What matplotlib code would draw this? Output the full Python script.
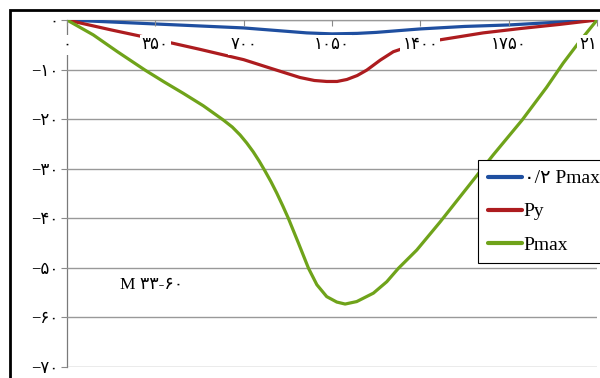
import matplotlib
matplotlib.use('Agg')
import matplotlib.pyplot as plt
from matplotlib.patches import Rectangle

# داده ها
x_blue = [0, 175, 350, 525, 700, 875, 950, 1050, 1150, 1225, 1400, 1575, 1750, 1925, 2100]
blue = [0, -0.4, -0.8, -1.2, -1.6, -2.3, -2.6, -2.8, -2.7, -2.5, -1.8, -1.3, -1.0, -0.5, 0]

x_red = [0, 175, 350, 525, 700, 817, 923, 980, 1029, 1070, 1109, 1150, 1188, 1241, 1293, 1380, 1478, 1649, 1800, 1950, 2100]
red = [0, -2.0, -3.9, -5.9, -8.0, -9.9, -11.6, -12.2, -12.4, -12.4, -12.0, -11.2, -10.1, -8.1, -6.4, -4.9, -4.0, -2.6, -1.7, -0.9, 0]

x_green = [0, 104, 200, 309, 385, 461, 540, 620, 655, 686, 712, 738, 762, 785, 808, 831, 855, 877, 917, 957, 990, 1029, 1069, 1102,
           1148, 1214, 1267, 1313, 1386, 1479, 1580, 1689, 1803, 1900, 1966, 2030, 2100]
green = [0, -3.0, -6.4, -10.1, -12.5, -14.8, -17.3, -20.2, -21.6, -23.2, -24.8, -26.6, -28.5, -30.5, -32.6, -34.9, -37.5, -40.0,
         -45.0, -50.1, -53.4, -55.8, -56.9, -57.3,
         -56.8, -55.1, -52.8, -50.1, -46.4, -40.7, -34.2, -27.2, -20.2, -13.6, -8.7, -4.4, 0]

series_names = ['۰/۲ Pmax', 'Py', 'Pmax']

x_ticks = [0, 350, 700, 1050, 1400, 1750, 2100]
x_labels = ['۰', '۳۵۰', '۷۰۰', '۱۰۵۰', '۱۴۰۰', '۱۷۵۰', '۲۱۰۰']
y_ticks = [-70, -60, -50, -40, -30, -20, -10, 0]
y_labels = ['−۷۰', '−۶۰', '−۵۰', '−۴۰', '−۳۰', '−۲۰', '−۱۰', '۰']

fam = ['Liberation Serif', 'DejaVu Sans']
plt.rcParams['font.family'] = fam

fig = plt.figure(figsize=(6, 3.78), dpi=100)
ax = fig.add_axes([67/600, 1-367/378, 530/600, 347/378])

ax.plot(x_blue, blue, color='#1f4fa0', lw=2.3, label=series_names[0], solid_capstyle='round', solid_joinstyle='round')
ax.plot(x_red, red, color='#ad1c1f', lw=2.3, label=series_names[1], solid_capstyle='round', solid_joinstyle='round')
ax.plot(x_green, green, color='#6fa31a', lw=2.3, label=series_names[2], solid_capstyle='round', solid_joinstyle='round')

ax.set_xlim(0, 2100)
ax.set_ylim(-70, 0)

ax.spines['top'].set_visible(False)
ax.spines['right'].set_visible(False)
ax.spines['bottom'].set_position(('data', 0))
ax.spines['bottom'].set_color('#8a8a8a')
ax.spines['left'].set_color('#7a7a7a')
ax.spines['bottom'].set_zorder(1)
ax.spines['left'].set_zorder(1)
ax.spines['left'].set_linewidth(0.9)
ax.spines['bottom'].set_linewidth(0.9)

ax.set_yticks(y_ticks, y_labels)
ax.set_xticks(x_ticks, x_labels)
ax.yaxis.grid(True, color='#999999', lw=1.0)
ax.tick_params(axis='y', direction='out', length=4, color='#8a8a8a', pad=2, labelsize=12)
ax.tick_params(axis='x', direction='out', length=4, color='#8a8a8a', pad=8, labelsize=12)
ax.xaxis.set_zorder(3)
for t in ax.get_xticklabels():
    t.set_bbox(dict(facecolor='white', edgecolor='none', pad=1.5))

ax.text(335, -53.4, 'M ۳۳-۶۰', fontsize=12.5, ha='center', va='center', family=fam)

leg = ax.legend(loc='upper left', bbox_to_anchor=(478/600, 1-160/378), bbox_transform=fig.transFigure,
                borderaxespad=0, fancybox=False, edgecolor='black', framealpha=1,
                prop={'size': 14, 'family': fam}, handlelength=1.75, handletextpad=0.1,
                borderpad=0.5, labelspacing=0.8)
leg.get_frame().set_linewidth(0.8)
for h in leg.get_lines():
    h.set_linewidth(3)

# کادر سیاه دور نمودار
fig.add_artist(Rectangle((10/600, -0.5), 2, 0.5 + 1 - 10/378, transform=fig.transFigure,
                         fill=False, ec='black', lw=2, clip_on=False))

fig.savefig('out.png', dpi=100)
